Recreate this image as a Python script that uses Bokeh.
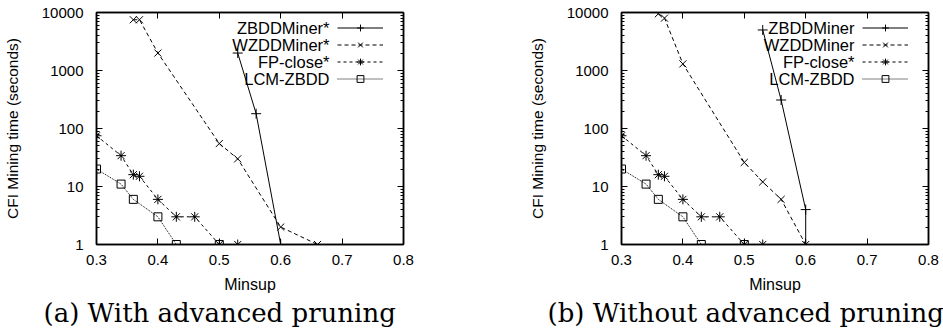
from bokeh.plotting import figure
from bokeh.models import (Range1d, FixedTicker, LinearAxis, LogAxis, Legend,
                          LegendItem, Label, Title, ColumnDataSource)
from bokeh.layouts import row
from bokeh.embed import file_html
from bokeh.resources import INLINE

# ---------------- data ----------------
x_ticks = [0.3, 0.4, 0.5, 0.6, 0.7, 0.8]
x_tick_labels = ["0.3", "0.4", "0.5", "0.6", "0.7", "0.8"]
y_ticks = [1, 10, 100, 1000, 10000]
y_tick_labels = ["1", "10", "100", "1000", "10000"]

names_a = ["ZBDDMiner*", "WZDDMiner*", "FP-close*", "LCM-ZBDD"]
names_b = ["ZBDDMiner", "WZDDMiner", "FP-close*", "LCM-ZBDD"]
captions = ["(a) With advanced pruning", "(b) Without advanced pruning"]
x_label = "Minsup"
y_label = "CFI Mining time (seconds)"

# panel (a)
zbdd_a_x = [0.53, 0.56, 0.60]
zbdd_a_y = [2000, 180, 1]
wzdd_a_x = [0.36, 0.37, 0.40, 0.50, 0.53, 0.60, 0.66]
wzdd_a_y = [7500, 7500, 2000, 55, 30, 2, 1]
fp_a_x = [0.30, 0.34, 0.36, 0.37, 0.40, 0.43, 0.46, 0.50, 0.53]
fp_a_y = [75, 34, 16, 15, 6, 3, 3, 1, 1]
lcm_a_x = [0.30, 0.34, 0.36, 0.40, 0.43, 0.50]
lcm_a_y = [20, 11, 6, 3, 1, 1]

# panel (b)
zbdd_b_x = [0.53, 0.56, 0.60, 0.60]
zbdd_b_y = [5000, 310, 4, 1]
wzdd_b_x = [0.36, 0.37, 0.40, 0.50, 0.53, 0.56, 0.60]
wzdd_b_y = [9500, 8000, 1300, 26, 12, 6, 1]
fp_b_x = [0.30, 0.34, 0.36, 0.37, 0.40, 0.43, 0.46, 0.50, 0.53]
fp_b_y = [75, 34, 16, 15, 6, 3, 3, 1, 1]
lcm_b_x = [0.30, 0.34, 0.36, 0.40, 0.43, 0.50]
lcm_b_y = [20, 11, 6, 3, 1, 1]

# ---------------- styling ----------------
SANS = "Liberation Sans"
STYLES = [
    dict(dash="solid", marker="cross", size=10),
    dict(dash="4 3", marker="x", size=10),
    dict(dash="3 3", marker="asterisk", size=10),
    dict(dash="1 1", marker="square", size=8),
]
y_minor = [m * 10 ** k for k in range(4) for m in range(2, 10)]

FRAME_W = 307
FRAME_H = 232


def style_axis(ax):
    ax.axis_line_color = "black"
    ax.axis_line_width = 1.5
    ax.major_tick_in = 6
    ax.major_tick_out = 0
    ax.minor_tick_in = 3
    ax.minor_tick_out = 0
    ax.major_tick_line_color = "black"
    ax.minor_tick_line_color = "black"
    ax.major_label_text_font = SANS
    ax.major_label_text_font_size = "15px"
    ax.major_label_text_color = "black"


def make_panel(series, names, caption, cap_offset, mb_left, mb_right):
    p = figure(width=mb_left + FRAME_W + mb_right, height=330,
               frame_width=FRAME_W, frame_height=FRAME_H,
               x_range=Range1d(0.3, 0.8), y_range=Range1d(1, 10000),
               y_axis_type="log", output_backend="svg", toolbar_location=None,
               min_border_left=mb_left, min_border_right=mb_right,
               min_border_top=12, min_border_bottom=86)
    p.grid.visible = False
    p.outline_line_color = "black"
    p.outline_line_width = 1.5
    p.background_fill_color = "white"
    p.border_fill_color = "white"

    xt = FixedTicker(ticks=x_ticks, minor_ticks=[])
    yt = FixedTicker(ticks=y_ticks, minor_ticks=y_minor)

    xa = p.xaxis[0]
    xa.ticker = xt
    xa.major_label_overrides = {t: s for t, s in zip(x_ticks, x_tick_labels)}
    style_axis(xa)
    xa.major_label_standoff = 10
    xa.axis_label = x_label
    xa.axis_label_text_font = SANS
    xa.axis_label_text_font_size = "16px"
    xa.axis_label_text_font_style = "normal"
    xa.axis_label_text_color = "black"
    xa.axis_label_standoff = 8

    ya = p.yaxis[0]
    ya.ticker = yt
    ya.major_label_overrides = {t: s for t, s in zip(y_ticks, y_tick_labels)}
    style_axis(ya)
    ya.major_label_standoff = 13
    ya.axis_label = y_label
    ya.axis_label_text_font = SANS
    ya.axis_label_text_font_size = "15.5px"
    ya.axis_label_text_font_style = "normal"
    ya.axis_label_text_color = "black"
    ya.axis_label_standoff = 18

    top = LinearAxis(ticker=xt)
    style_axis(top)
    top.major_label_overrides = {t: "" for t in x_ticks}
    top.major_label_standoff = 0
    p.add_layout(top, "above")
    right = LogAxis(ticker=yt)
    style_axis(right)
    right.major_label_overrides = {t: "" for t in y_ticks}
    right.major_label_standoff = 0
    p.add_layout(right, "right")

    items = []
    for (xs, ys), st in zip(series, STYLES):
        src = ColumnDataSource(dict(x=xs, y=ys))
        lr = p.line("x", "y", source=src, line_color="black", line_width=1,
                    line_dash=st["dash"])
        sr = p.scatter("x", "y", source=src, marker=st["marker"], size=st["size"],
                       line_color="black", fill_color=None, line_width=1)
        items.append(LegendItem(label=" ", renderers=[lr, sr]))

    leg = Legend(items=items, location=(241, 157), orientation="vertical",
                 glyph_width=46, glyph_height=17, label_height=17, label_width=0,
                 label_standoff=0, spacing=0, padding=0, margin=0,
                 border_line_alpha=0, background_fill_alpha=0,
                 label_text_font_size="10px")
    p.add_layout(leg, "center")

    for i, nm in enumerate(names):
        p.add_layout(Label(x=233, y=FRAME_H - 15.5 - 17 * i, x_units="screen",
                           y_units="screen", text=nm, text_align="right",
                           text_baseline="middle", text_font=SANS,
                           text_font_size="16.5px", text_color="black"))

    cap = Title(text=caption, align="left", offset=cap_offset,
                text_font="DejaVu Serif", text_font_size="26px",
                text_font_style="normal", text_color="black", standoff=0)
    p.add_layout(cap, "below")
    return p


series_a = [(zbdd_a_x, zbdd_a_y), (wzdd_a_x, wzdd_a_y), (fp_a_x, fp_a_y), (lcm_a_x, lcm_a_y)]
series_b = [(zbdd_b_x, zbdd_b_y), (wzdd_b_x, wzdd_b_y), (fp_b_x, fp_b_y), (lcm_b_x, lcm_b_y)]

pa = make_panel(series_a, names_a, captions[0], -53, 96, 67)
pb = make_panel(series_b, names_b, captions[1], -74, 151, 15)

layout = row(pa, pb, spacing=0)
open("out.html", "w").write(file_html(layout, INLINE))
